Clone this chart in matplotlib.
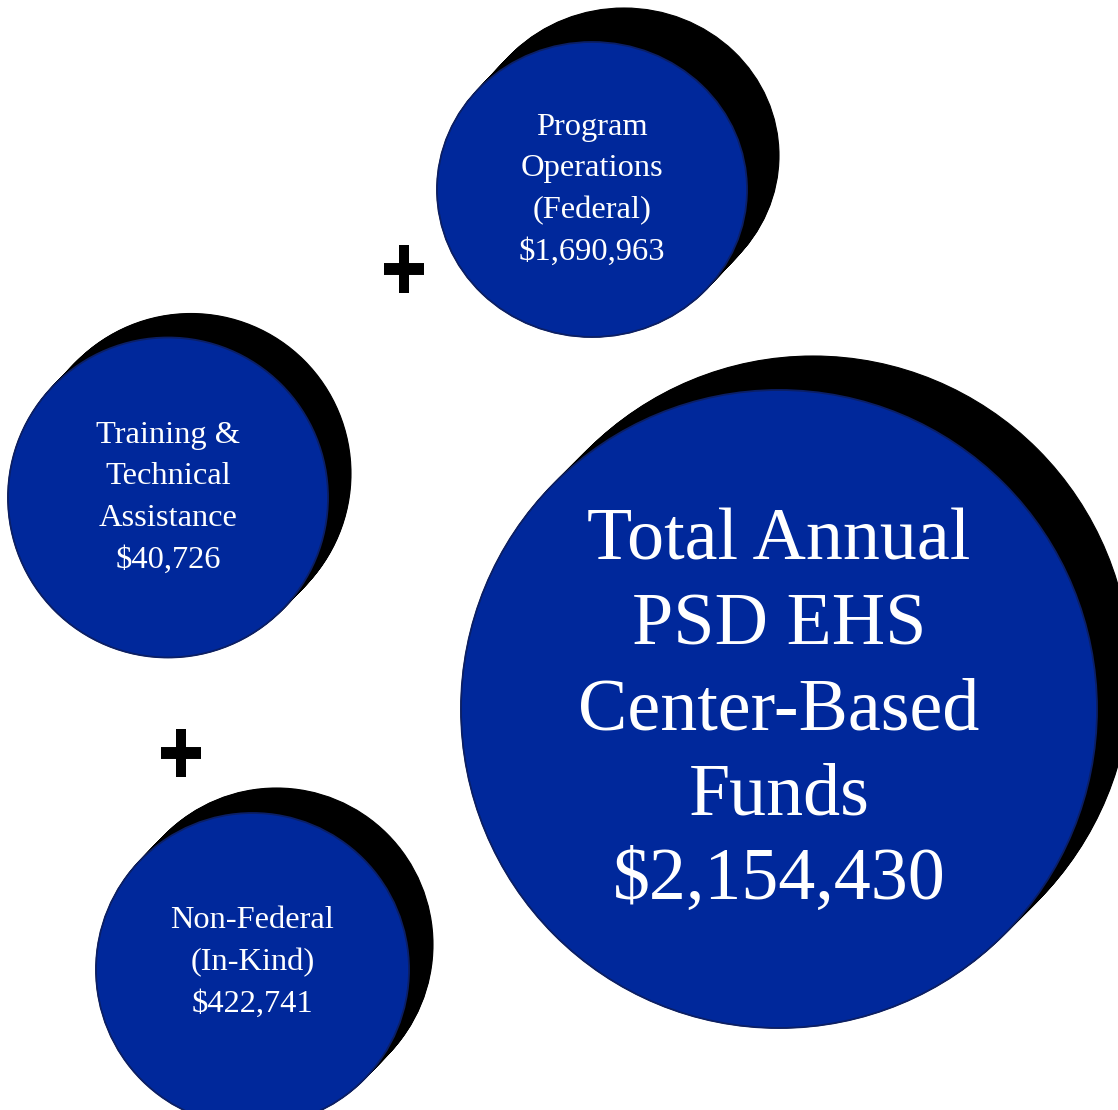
import numpy as np
import matplotlib.pyplot as plt
from matplotlib.patches import Ellipse

# funding parts and the total
part_labels = [["Program", "Operations", "(Federal)"],
               ["Training &", "Technical", "Assistance"],
               ["Non-Federal", "(In-Kind)"]]
part_amounts = [1690963, 40726, 422741]
total_label = ["Total Annual", "PSD EHS", "Center-Based", "Funds"]
total_amount = sum(part_amounts)

# layout, in pixels from the top-left corner
centers = [(592, 189.5), (168, 497.5), (252.5, 969.5), (779, 709)]
radii = [(155, 147.5), (160, 160), (156.5, 156.5), (318, 319)]
shadow_off = [(32, -34), (23, -24), (24, -25), (34, -34)]
font_px = [32.5, 32.5, 32.5, 74]
line_px = [41.7, 41.5, 42, 85]
text_dy = [-3, -3, -10, -4]
plus_pos = [(404, 268.5), (181, 752.5)]

blue = "#00289b"
edge = "#0b1f66"
W, H = 1118, 1110

fig = plt.figure(figsize=(W / 100, H / 100), dpi=100)
ax = fig.add_axes([0, 0, 1, 1])
ax.set_xlim(0, W)
ax.set_ylim(H, 0)
ax.axis("off")

labels = part_labels + [total_label]
amounts = part_amounts + [total_amount]

for (cx, cy), (rx, ry), (ox, oy) in zip(centers, radii, shadow_off):
    # black extruded shadow, swept from the circle to its offset copy
    for t in np.linspace(0, 1, 40):
        ax.add_patch(Ellipse((cx + ox * t, cy + oy * t), 2 * rx, 2 * ry,
                             facecolor="black", edgecolor="black", lw=0.8, zorder=1))
    ax.add_patch(Ellipse((cx, cy), 2 * rx, 2 * ry, facecolor=blue,
                         edgecolor=edge, lw=1.3, zorder=2))

for i, (cx, cy) in enumerate(centers):
    lines = labels[i] + [f"${amounts[i]:,}"]
    n = len(lines)
    fs = font_px[i] * 0.72
    cap = 0.66 * font_px[i]
    for k, s in enumerate(lines):
        y = cy + text_dy[i] + (k - (n - 1) / 2) * line_px[i] + cap / 2
        ax.text(cx, y, s, ha="center", va="baseline", color="white",
                fontsize=fs, family="Liberation Serif", zorder=3)

for px, py in plus_pos:
    ax.plot([px, px], [py - 24, py + 24], color="black", lw=7.2,
            solid_capstyle="butt", zorder=3)
    ax.plot([px - 20, px + 20], [py, py], color="black", lw=8.6,
            solid_capstyle="butt", zorder=3)

fig.savefig("out.png", dpi=100, facecolor="white")
